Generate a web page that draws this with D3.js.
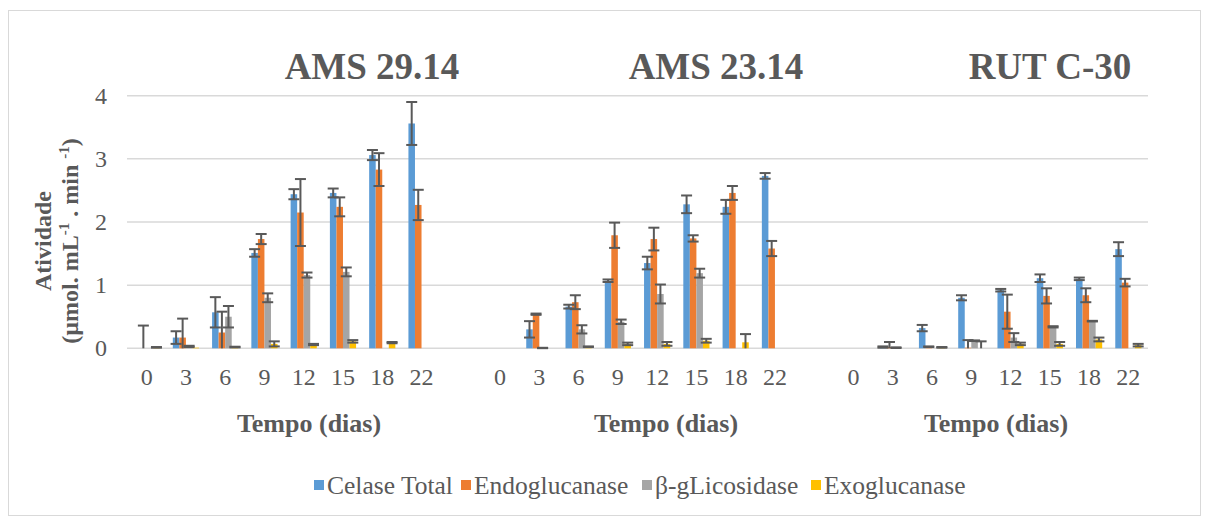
<!DOCTYPE html>
<html>
<head>
<meta charset="utf-8">
<script src="https://cdn.jsdelivr.net/npm/d3@7"></script>
</head>
<body style="margin:0">
<svg id="fig" width="1208" height="521"></svg>
<script>
// data (3 strains x 8 sampling days)
const days = ["0", "3", "6", "9", "12", "15", "18", "22"];
const strains = ["AMS 29.14", "AMS 23.14", "RUT C-30"];
const seriesNames = ["Celase Total", "Endoglucanase", "β-gLicosidase", "Exoglucanase"];
const seriesColors = ["#5B9BD5", "#ED7D31", "#A5A5A5", "#FFC000"];
const yTicks = [0, 1, 2, 3, 4];

// values, strain after strain
const celaseTotal = [0, 0.17, 0.57, 1.51, 2.44, 2.46, 3.06, 3.56,
                     0, 0.30, 0.66, 1.07, 1.35, 2.28, 2.24, 2.73,
                     0, 0.02, 0.32, 0.80, 0.92, 1.11, 1.10, 1.57];
const celaseTotalErr = [0, 0.10, 0.24, 0.06, 0.08, 0.07, 0.08, 0.34,
                        0, 0.13, 0.03, 0.02, 0.10, 0.14, 0.11, 0.045,
                        0, 0.01, 0.05, 0.04, 0.02, 0.06, 0.02, 0.11];
const endoglucanase = [0, 0.17, 0.25, 1.73, 2.15, 2.24, 2.83, 2.27,
                       0, 0.54, 0.73, 1.79, 1.73, 1.74, 2.46, 1.58,
                       0, 0.02, 0.025, 0.01, 0.58, 0.83, 0.84, 1.04];
const endoglucanaseErr = [0.36, 0.30, 0.33, 0.08, 0.53, 0.15, 0.26, 0.24,
                          0, 0.01, 0.11, 0.20, 0.18, 0.05, 0.11, 0.12,
                          0, 0.08, 0.005, 0.12, 0.27, 0.12, 0.11, 0.06];
const betaGlicosidase = [0, 0.03, 0.50, 0.80, 1.16, 1.21, 0, 0,
                         0, 0.005, 0.30, 0.42, 0.86, 1.19, 0, 0,
                         0, 0.01, 0, 0.12, 0.17, 0.34, 0.43, 0];
const betaGlicosidaseErr = [0, 0.01, 0.17, 0.07, 0.04, 0.07, 0, 0,
                            0, 0.003, 0.065, 0.035, 0.15, 0.07, 0, 0,
                            0, 0.005, 0, 0.005, 0.07, 0.01, 0.005, 0];
const exoglucanase = [0.015, 0.01, 0.02, 0.07, 0.06, 0.11, 0.09, 0,
                      0, 0, 0.025, 0.07, 0.07, 0.12, 0.095, 0,
                      0, 0, 0.015, 0, 0.07, 0.07, 0.14, 0.05];
const exoglucanaseErr = [0.005, 0, 0.005, 0.04, 0.01, 0.02, 0.01, 0,
                         0, 0, 0.005, 0.02, 0.03, 0.03, 0.13, 0,
                         0, 0, 0.005, 0.11, 0.02, 0.03, 0.03, 0.02];

const seriesValues = [celaseTotal, endoglucanase, betaGlicosidase, exoglucanase];
const seriesErrors = [celaseTotalErr, endoglucanaseErr, betaGlicosidaseErr, exoglucanaseErr];

// category slots: 8 days per strain, one empty slot between strains
var slots = [];
strains.forEach((s, si) => {
    days.forEach(d => slots.push({ key: s + "|" + d, label: d, strain: si }));
    if (si < strains.length - 1) slots.push({ key: "gap" + si, label: "", strain: -1 });
});

var svg = d3.select("#fig");
var plot = { left: 127, right: 1148, top: 95.7, bottom: 348.3 };
var textGray = "#595959";
var gridGray = "#D9D9D9";

function serifText(sel) {
    return sel.style("font-family", "Liberation Serif");
}

// outer frame
svg.append("rect")
   .attr("x", 8.5).attr("y", 10.5)
   .attr("width", 1192).attr("height", 505)
   .attr("fill", "none")
   .attr("stroke", gridGray)
   .attr("stroke-width", 1);

var x = d3.scaleBand()
          .domain(slots.map(d => d.key))
          .range([plot.left, plot.right])
          .padding(0);

var xInner = d3.scaleBand()
               .domain(d3.range(seriesNames.length))
               .range([0, x.bandwidth()])
               .paddingInner(0)
               .paddingOuter(1);

var y = d3.scaleLinear()
          .domain([0, 4])
          .range([plot.bottom, plot.top]);

// gridlines
svg.append("g")
   .selectAll("line")
   .data(yTicks)
   .enter()
   .append("line")
   .attr("x1", plot.left).attr("x2", plot.right)
   .attr("y1", d => y(d)).attr("y2", d => y(d))
   .attr("stroke", gridGray)
   .attr("stroke-width", 1.5);

// y tick labels
svg.append("g")
   .selectAll("text")
   .data(yTicks)
   .enter()
   .append("text")
   .attr("x", 107)
   .attr("y", d => y(d) + 8)
   .attr("text-anchor", "end")
   .call(serifText)
   .style("font-size", "24px")
   .style("fill", textGray)
   .text(d => d);

// x tick labels
svg.append("g")
   .selectAll("text")
   .data(slots.filter(d => d.label !== ""))
   .enter()
   .append("text")
   .attr("x", d => x(d.key) + x.bandwidth() / 2)
   .attr("y", 385)
   .attr("text-anchor", "middle")
   .call(serifText)
   .style("font-size", "24px")
   .style("fill", textGray)
   .text(d => d.label);

// bars + error bars
var barData = [];
var k = 0;
slots.forEach(s => {
    if (s.strain < 0) return;
    seriesNames.forEach((n, i) => {
        barData.push({ slot: s.key, series: i, value: seriesValues[i][k], err: seriesErrors[i][k] });
    });
    k++;
});

var bw = xInner.bandwidth();
svg.append("g")
   .selectAll("rect")
   .data(barData.filter(d => d.value > 0))
   .enter()
   .append("rect")
   .attr("x", d => x(d.slot) + xInner(d.series))
   .attr("y", d => y(d.value))
   .attr("width", bw)
   .attr("height", d => y(0) - y(d.value))
   .attr("fill", d => seriesColors[d.series]);

var errG = svg.append("g")
              .attr("stroke", textGray)
              .attr("stroke-width", 2)
              .attr("fill", "none");
var capHalf = 5.5;

barData.filter(d => d.err > 0).forEach(d => {
    var cx = x(d.slot) + xInner(d.series) + bw / 2;
    var hi = d.value + d.err;
    var lo = Math.max(0, d.value - d.err);
    errG.append("line")
        .attr("x1", cx).attr("x2", cx)
        .attr("y1", y(hi)).attr("y2", y(lo));
    errG.append("line")
        .attr("x1", cx - capHalf).attr("x2", cx + capHalf)
        .attr("y1", y(hi)).attr("y2", y(hi));
    if (d.value - d.err > 0) {
        errG.append("line")
            .attr("x1", cx - capHalf).attr("x2", cx + capHalf)
            .attr("y1", y(lo)).attr("y2", y(lo));
    }
});

// strain titles and x axis titles (free text boxes in the original)
var titleX = [372, 716, 1050];
var axisTitleX = [309, 666, 996];

svg.append("g")
   .selectAll("text")
   .data(strains)
   .enter()
   .append("text")
   .attr("x", (d, i) => titleX[i])
   .attr("y", 79)
   .attr("text-anchor", "middle")
   .call(serifText)
   .style("font-size", "37px")
   .style("font-weight", 700)
   .style("fill", textGray)
   .text(d => d);

svg.append("g")
   .selectAll("text")
   .data(strains)
   .enter()
   .append("text")
   .attr("x", (d, i) => axisTitleX[i])
   .attr("y", 432)
   .attr("text-anchor", "middle")
   .call(serifText)
   .style("font-size", "26px")
   .style("font-weight", 700)
   .style("fill", textGray)
   .text("Tempo (dias)");

// y axis title
var yTitle = svg.append("g")
                .attr("transform", "translate(0,241) rotate(-90)")
                .style("font-size", "24px")
                .style("font-weight", 700)
                .style("fill", textGray);

yTitle.append("text")
      .attr("x", 0).attr("y", 51)
      .attr("text-anchor", "middle")
      .call(serifText)
      .text("Atividade");

var unit = yTitle.append("text")
                 .attr("x", 0).attr("y", 78)
                 .attr("text-anchor", "middle")
                 .call(serifText);
unit.append("tspan").text("(µmol. mL");
unit.append("tspan").attr("dy", -9).style("font-size", "15px").text("-1");
unit.append("tspan").attr("dy", 9).text(" . min ");
unit.append("tspan").attr("dy", -9).style("font-size", "15px").text("-1");
unit.append("tspan").attr("dy", 9).text(")");

// legend
var legendX = [314, 461, 642, 811];
var legend = svg.append("g")
                .selectAll("g")
                .data(seriesNames)
                .enter()
                .append("g")
                .attr("transform", (d, i) => "translate(" + legendX[i] + ",485)");

legend.append("rect")
      .attr("x", 0).attr("y", -5)
      .attr("width", 10).attr("height", 10)
      .attr("fill", (d, i) => seriesColors[i]);

legend.append("text")
      .attr("x", 13)
      .attr("y", 8.5)
      .call(serifText)
      .style("font-size", "25.5px")
      .style("fill", textGray)
      .text(d => d);
</script>
</body>
</html>
